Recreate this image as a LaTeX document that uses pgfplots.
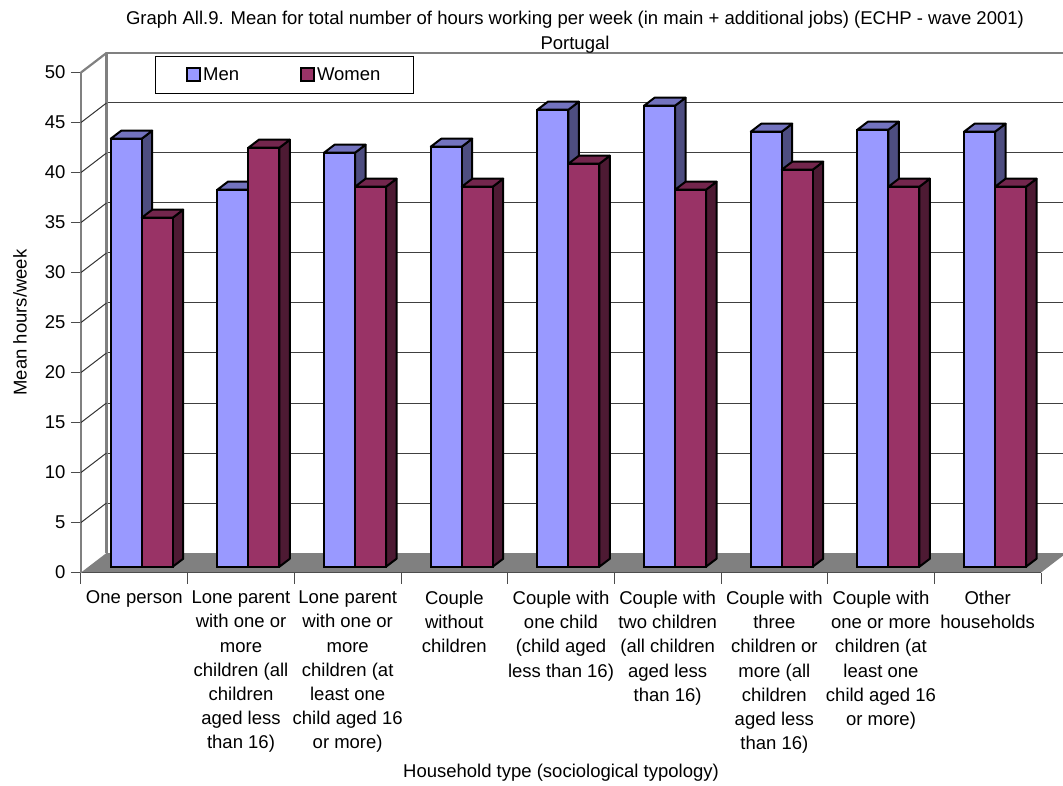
\documentclass[border=0pt]{standalone}
\usepackage{fontspec}
\setmainfont{Liberation Sans}
\usepackage{pgfplots}
\pgfplotsset{compat=1.18}

\definecolor{menfront}{HTML}{9999FF}
\definecolor{mentop}{HTML}{7373BF}
\definecolor{menside}{HTML}{4D4D80}
\definecolor{womenfront}{HTML}{993366}
\definecolor{womentop}{HTML}{73264D}
\definecolor{womenside}{HTML}{4D1A33}
\definecolor{wallgrey}{HTML}{808080}

% One pixel of the finished image is one point throughout.
\pgfplotsset{
  plane/.style={
    width=960pt, height=500pt, scale only axis,
    xmin=0, xmax=9, ymin=0, ymax=50, clip=false
  },
  barline/.style={draw=black, line width=2pt, line join=round, forget plot},
}

% Side and top faces of one column: #1 left edge, #2 right edge, #3 value, #4 top colour, #5 side colour.
\newcommand{\columnfaces}[5]{%
  \pgfmathsetmacro{\xl}{#1}%
  \pgfmathsetmacro{\xr}{#2}%
  \pgfmathsetmacro{\xld}{#1+0.0984}%
  \pgfmathsetmacro{\xrd}{#2+0.0984}%
  \pgfmathsetmacro{\vd}{#3+0.8}%
  \edef\sidepath{\noexpand\addplot[barline, fill=#5] coordinates {(\xr,0) (\xrd,0.8) (\xrd,\vd) (\xr,#3)} --cycle;}%
  \sidepath
  \edef\toppath{\noexpand\addplot[barline, fill=#4] coordinates {(\xl,#3) (\xr,#3) (\xrd,\vd) (\xld,\vd)} --cycle;}%
  \toppath
}
\newcommand{\menfaces}[2]{\columnfaces{#1+0.2094}{#1+0.5}{#2}{mentop}{menside}}
\newcommand{\womenfaces}[2]{\columnfaces{#1+0.5}{#1+0.7906}{#2}{womentop}{womenside}}

\begin{document}
\begin{tikzpicture}
\useasboundingbox (-81pt,-212.5pt) rectangle (982pt,572.5pt);

% Back wall with its grid, left wall and floor
\begin{axis}[plane, shift={(25.5pt,19.5pt)}, hide x axis, axis y line=none,
    ytick={0,5,...,50}, unbounded coords=jump]
  \addplot[fill=wallgrey, draw=none] coordinates {(-0.239,-1.95) (8.761,-1.95) (9,0) (0,0)} --cycle;
  \addplot[color=black!75, line width=1pt, forget plot] table[row sep=crcr] {
    x y\\
    0 5\\ 9 5\\ nan nan\\ 0 10\\ 9 10\\ nan nan\\ 0 15\\ 9 15\\ nan nan\\ 0 20\\ 9 20\\ nan nan\\
    0 25\\ 9 25\\ nan nan\\ 0 30\\ 9 30\\ nan nan\\ 0 35\\ 9 35\\ nan nan\\ 0 40\\ 9 40\\ nan nan\\
    0 45\\ 9 45\\
  };
  \addplot[color=wallgrey, line width=2.4pt, line join=round] coordinates {(0,0) (0,50) (9,50)};
\end{axis}

% Columns: a pair for each household type, each column with a top and a side
\begin{axis}[plane, shift={(7.4pt,5.8pt)}, hide axis,
    legend style={at={(0.0694,1.022)}, anchor=north west, draw=black, line width=0.8pt,
      fill=white, font=\fontsize{18.5}{22}\selectfont, inner xsep=31pt, inner ysep=9.5pt,
      /tikz/column 2/.style={column sep=59pt}},
    legend columns=2]

  \menfaces{0}{42.8}\menfaces{1}{37.7}\menfaces{2}{41.4}
  \menfaces{3}{42.0}\menfaces{4}{45.7}\menfaces{5}{46.1}
  \menfaces{6}{43.5}\menfaces{7}{43.7}\menfaces{8}{43.5}
  \addplot[ybar, bar width=31pt, bar shift=-15.5pt, draw=black, line width=2pt, fill=menfront,
    legend image code/.code={\draw[draw=black, line width=1.8pt, fill=menfront] (0pt,-6.5pt) rectangle (13pt,6.5pt);}]
    coordinates {(0.5,42.8) (1.5,37.7) (2.5,41.4) (3.5,42.0) (4.5,45.7) (5.5,46.1) (6.5,43.5) (7.5,43.7) (8.5,43.5)};
  \addlegendentry{Men}

  \womenfaces{0}{34.9}\womenfaces{1}{41.9}\womenfaces{2}{38.0}
  \womenfaces{3}{38.0}\womenfaces{4}{40.3}\womenfaces{5}{37.7}
  \womenfaces{6}{39.7}\womenfaces{7}{38.0}\womenfaces{8}{38.0}
  \addplot[ybar, bar width=31pt, bar shift=15.5pt, draw=black, line width=2pt, fill=womenfront,
    legend image code/.code={\draw[draw=black, line width=1.8pt, fill=womenfront] (0pt,-6.5pt) rectangle (13pt,6.5pt);}]
    coordinates {(0.5,34.9) (1.5,41.9) (2.5,38.0) (3.5,38.0) (4.5,40.3) (5.5,37.7) (6.5,39.7) (7.5,38.0) (8.5,38.0)};
  \addlegendentry{Women}
\end{axis}

% Front plane: scales, tick labels, titles and the edges joining it to the wall
\begin{axis}[plane, unbounded coords=jump,
    axis x line*=bottom, axis y line*=left,
    x axis line style={draw=black!70, line width=1pt, -},
    y axis line style={draw=wallgrey, line width=2.2pt, -},
    ytick={0,5,...,50},
    ytick style={draw=black!70, line width=1pt},
    major tick length=10pt, tick align=outside,
    y tick label style={font=\fontsize{18.5}{22}\selectfont, xshift=-2pt},
    /pgf/number format/assume math mode=true,
    xtick={0.5,1.5,...,8.5},
    major x tick style={draw=none},
    minor xtick={0,1,...,9},
    minor tick length=11pt,
    minor x tick style={draw=black!70, line width=1pt},
    xticklabels={
      One person,
      Lone parent\\with one or\\more\\children (all\\children\\aged less\\than 16),
      Lone parent\\with one or\\more\\children (at\\least one\\child aged 16\\or more),
      Couple\\without\\children,
      Couple with\\one child\\(child aged\\less than 16),
      Couple with\\two children\\(all children\\aged less\\than 16),
      Couple with\\three\\children or\\more (all\\children\\aged less\\than 16),
      Couple with\\one or more\\children (at\\least one\\child aged 16\\or more),
      Other\\households},
    x tick label style={align=center, anchor=north, yshift=-5pt,
      font=\fontsize{18.5}{24.2}\selectfont},
    xlabel={Household type (sociological typology)},
    xlabel style={at={(0.5,0)}, anchor=center, yshift=-200.5pt,
      font=\fontsize{18.5}{22}\selectfont},
    ylabel={Mean hours/week},
    ylabel style={at={(0,0.5)}, anchor=center, yshift=61pt,
      font=\fontsize{18.5}{22}\selectfont},
    title={Graph All.9. Mean for total number of hours working per week (in main + additional jobs) (ECHP - wave 2001)\\Portugal},
    title style={at={(0.5,1)}, anchor=south, align=center, yshift=10pt, xshift=14pt,
      font=\fontsize{18.5}{24.2}\selectfont},
  ]
  \addplot[color=black!80, line width=1pt, forget plot] table[row sep=crcr] {
    x y\\
    0 5\\ 0.239 6.95\\ nan nan\\ 0 10\\ 0.239 11.95\\ nan nan\\ 0 15\\ 0.239 16.95\\ nan nan\\
    0 20\\ 0.239 21.95\\ nan nan\\ 0 25\\ 0.239 26.95\\ nan nan\\ 0 30\\ 0.239 31.95\\ nan nan\\
    0 35\\ 0.239 36.95\\ nan nan\\ 0 40\\ 0.239 41.95\\ nan nan\\ 0 45\\ 0.239 46.95\\
  };
  \addplot[color=wallgrey, line width=2.2pt, forget plot] coordinates {(0,50) (0.239,51.95)};
\end{axis}
\end{tikzpicture}
\end{document}
